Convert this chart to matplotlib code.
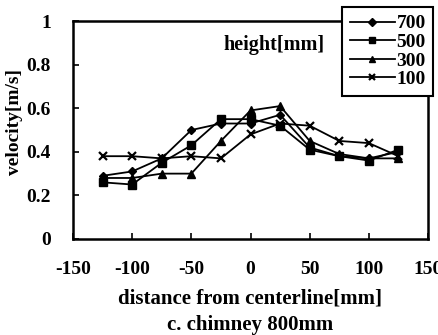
import matplotlib
matplotlib.use('Agg')
import matplotlib.pyplot as plt

plt.rcParams['font.family'] = 'Liberation Serif'
plt.rcParams['font.weight'] = 'bold'
plt.rcParams['axes.unicode_minus'] = False

# distance from centerline [mm]
dist = [-125, -100, -75, -50, -25, 0, 25, 50, 75, 100, 125]
# velocity [m/s] per height
h700 = [0.29, 0.31, 0.37, 0.50, 0.53, 0.53, 0.57, 0.42, 0.38, 0.37, 0.40]
h500 = [0.26, 0.25, 0.35, 0.43, 0.55, 0.55, 0.52, 0.41, 0.38, 0.36, 0.41]
h300 = [0.28, 0.28, 0.30, 0.30, 0.45, 0.59, 0.61, 0.45, 0.39, 0.37, 0.37]
h100 = [0.38, 0.38, 0.37, 0.38, 0.37, 0.48, 0.53, 0.52, 0.45, 0.44, 0.38]
labels = ['700', '500', '300', '100']

fig = plt.figure(figsize=(4.38, 3.35), dpi=100)
ax = fig.add_axes([0.1667, 0.2866, 0.8105, 0.6504])

ax.plot(dist, h700, '-D', color='black', lw=1.3, ms=4.5, label=labels[0])
ax.plot(dist, h500, '-s', color='black', lw=1.3, ms=5.5, label=labels[1])
ax.plot(dist, h300, '-^', color='black', lw=1.3, ms=5.5, label=labels[2])
ax.plot(dist, h100, '-x', color='black', lw=1.3, ms=6, mew=1.6, label=labels[3])

ax.set_xlim(-150, 150)
ax.set_ylim(0, 1)
ax.set_xticks([-150, -100, -50, 0, 50, 100, 150])
ax.set_yticks([0, 0.2, 0.4, 0.6, 0.8, 1])
ax.set_yticklabels(['0', '0.2', '0.4', '0.6', '0.8', '1'])
ax.tick_params(direction='in', length=4, width=1.2, labelsize=14)
ax.tick_params(axis='x', pad=16)
ax.tick_params(axis='y', pad=16)
for s in ax.spines.values():
    s.set_linewidth(1.8)

fig.text(0.571, 1 - 299 / 335, 'distance from centerline[mm]', ha='center', va='center',
         fontsize=15, fontweight='bold')
fig.text(0.571, 1 - 325 / 335, 'c. chimney 800mm', ha='center', va='center',
         fontsize=15, fontweight='bold')
fig.text(15 / 438, 1 - 122 / 335, 'velocity[m/s]', ha='center', va='center',
         rotation=90, fontsize=14, fontweight='bold')
ax.text(20, 0.89, 'height[mm]', ha='center', va='center', fontsize=14.5, fontweight='bold')

leg = fig.legend(loc='upper left', bbox_to_anchor=(342 / 438, 1 - 7 / 335), fontsize=14,
                 frameon=True, fancybox=False, edgecolor='black', framealpha=1,
                 handlelength=2.3, handletextpad=0.1, borderpad=0.4,
                 labelspacing=0.05, borderaxespad=0, markerscale=0.8)
leg.get_frame().set_linewidth(1.5)

fig.savefig('out.png', dpi=100)
